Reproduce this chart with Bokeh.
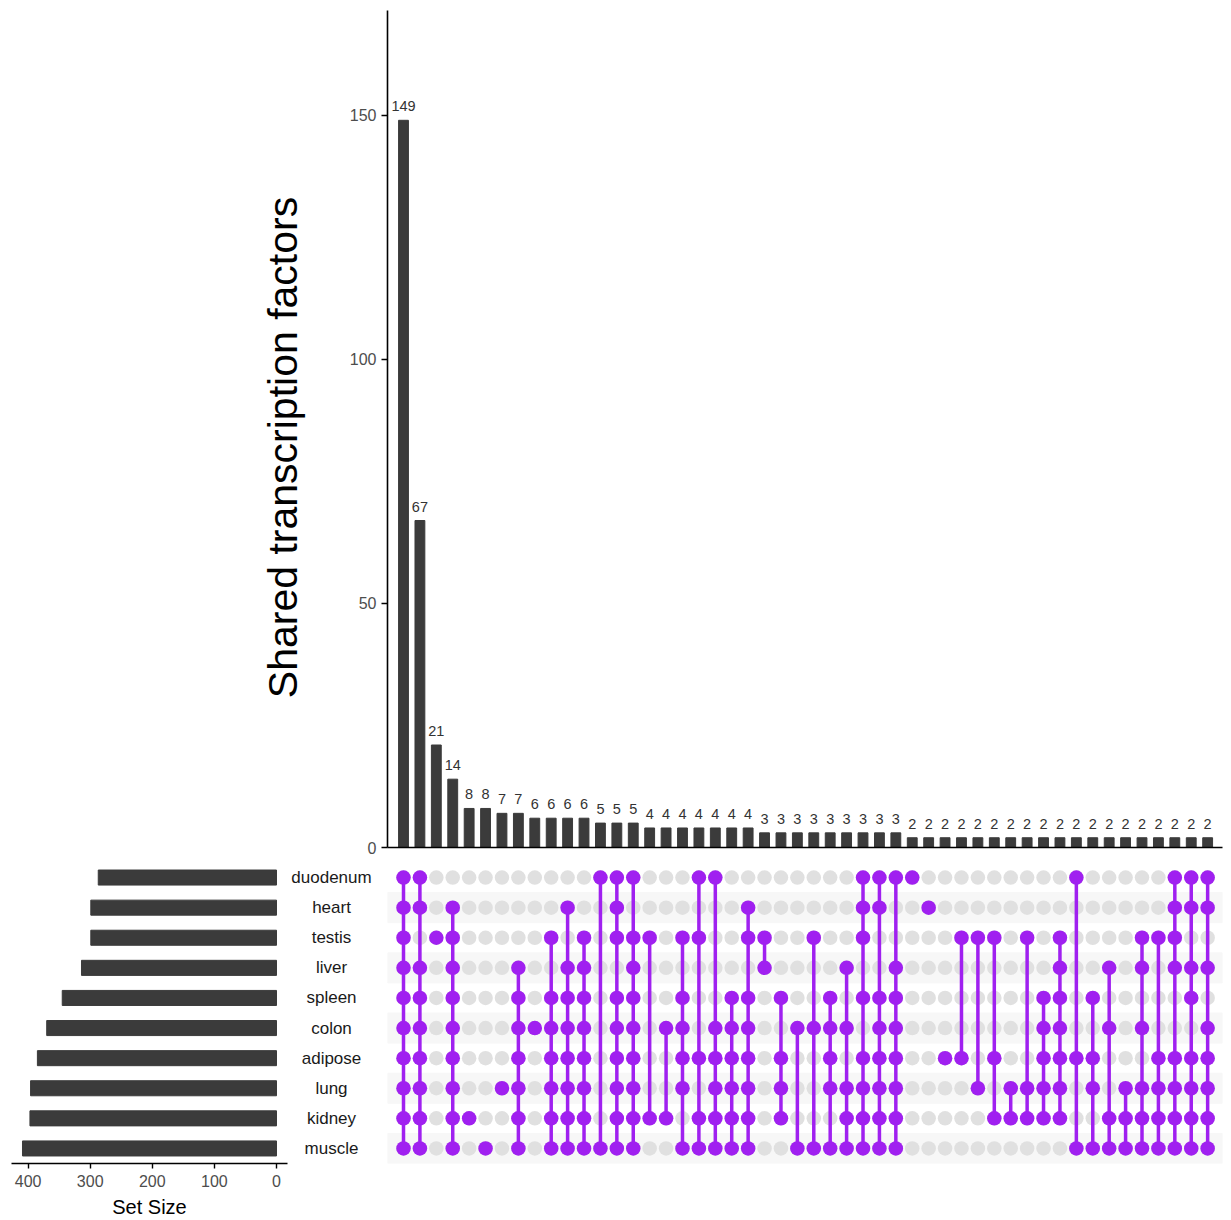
from bokeh.plotting import figure
from bokeh.models import Range1d, FactorRange, FixedTicker, LinearAxis, ColumnDataSource
from bokeh.layouts import column, row
from bokeh.embed import file_html
from bokeh.resources import INLINE
from bokeh.core.properties import value
import math

# ---------------- data ----------------
sets = ["duodenum", "heart", "testis", "liver", "spleen",
        "colon", "adipose", "lung", "kidney", "muscle"]
set_sizes = [287, 299, 299, 314, 345, 370, 385, 396, 397, 409]

intersection_sizes = [149, 67, 21, 14, 8, 8, 7, 7, 6, 6,
                      6, 6, 5, 5, 5, 4, 4, 4, 4, 4,
                      4, 4, 3, 3, 3, 3, 3, 3, 3, 3,
                      3, 2, 2, 2, 2, 2, 2, 2, 2, 2,
                      2, 2, 2, 2, 2, 2, 2, 2, 2, 2]

# membership of each intersection, one char per set in the order of `sets`
memberships = [
    "1111111111", "1101111111", "0010000000", "0111111111", "0000000010",
    "0000000001", "0000000100", "0001111111", "0000010000", "0010111111",
    "0101111111", "0011111111", "1000000001", "1110111111", "1011111111",
    "0010000010", "0000010010", "0010111101", "1010001011", "1000011111",
    "0000111111", "0110111111", "0011000000", "0000101110", "0000010001",
    "0010010001", "0000111101", "0001010111", "1110101111", "1100111111",
    "1001111111", "1000000000", "0100000000", "0000001000", "0010001000",
    "0010000100", "0010001010", "0000000110", "0010000110", "0000111110",
    "0011111110", "1000001001", "0000101101", "0001010011", "0000000111",
    "0011010111", "0010001111", "1111001111", "1101101111", "1101011111",
]

count_ticks = [0, 50, 100, 150]
size_ticks = [0, 100, 200, 300, 400]
y_title = "Shared transcription factors"
x_title = "Set Size"

# ---------------- style ----------------
FONT = "Liberation Sans"
BAR = "#3B3B3B"
PURPLE = "#A020F0"
EMPTY = "#E0E0E0"
STRIPE = "#F7F7F7"
TICK_TXT = "#4D4D4D"

n = len(intersection_sizes)
xr = Range1d(-0.975, 49.905)
yfac = FactorRange(factors=list(reversed(sets)))

# vertical borders shared by all plots in a row (rows align frames)
TOP1, BOT1, H1 = 10, 11, 858
TOP2, BOT2, H2 = 4, 57, 362
LABW = 330


def base(**kw):
    p = figure(output_backend="svg", toolbar_location=None,
               outline_line_color=None, background_fill_color="white",
               border_fill_color="white", **kw)
    return p


# ---------------- y title panel ----------------
lab = base(width=LABW, height=H1, x_range=Range1d(0, LABW), y_range=Range1d(H1 - BOT1, TOP1),
           x_axis_type=None, y_axis_type=None,
           min_border_left=0, min_border_right=0, min_border_top=TOP1, min_border_bottom=BOT1)
lab.text(x=[282], y=[447], text=[y_title], angle=math.pi / 2,
         text_align="center", text_baseline="middle",
         text_font=value(FONT), text_font_size="41px", text_color="black")

# ---------------- intersection bars ----------------
bar = base(width=1223 - LABW, height=H1, x_range=xr, y_range=Range1d(0, 171.5),
           x_axis_type=None, y_axis_type=None,
           min_border_left=387 - LABW, min_border_right=1, min_border_top=TOP1, min_border_bottom=BOT1)
yax = LinearAxis(ticker=FixedTicker(ticks=count_ticks),
                 axis_line_color="black", axis_line_width=1.6,
                 major_tick_line_color="black", major_tick_line_width=1.4,
                 major_tick_out=6, major_tick_in=0, minor_tick_out=0, minor_tick_in=0,
                 major_label_standoff=5,
                 major_label_text_font=FONT, major_label_text_font_size="16px",
                 major_label_text_color=TICK_TXT)
bar.add_layout(yax, "left")
xax = LinearAxis(ticker=FixedTicker(ticks=[]),
                 axis_line_color="black", axis_line_width=1.6,
                 major_tick_out=0, major_tick_in=0, minor_tick_out=0, minor_tick_in=0,
                 major_label_standoff=0, major_label_text_font_size="0px")
bar.add_layout(xax, "below")

bsrc = ColumnDataSource(dict(x=list(range(n)), top=intersection_sizes,
                             label=[str(v) for v in intersection_sizes]))
bar.vbar(x="x", top="top", bottom=0, width=0.6, color=BAR, source=bsrc)
bar.text(x="x", y="top", text="label", source=bsrc, text_align="center",
         text_baseline="alphabetic", y_offset=-14,
         text_font=value(FONT), text_font_size="14.5px", text_color="#333333")

# ---------------- set size bars ----------------
size = base(width=290, height=H2, x_range=Range1d(426.7, -17.7), y_range=yfac,
            x_axis_type=None, y_axis_type=None,
            min_border_left=11, min_border_right=3, min_border_top=TOP2, min_border_bottom=BOT2)
sax = LinearAxis(ticker=FixedTicker(ticks=size_ticks), axis_label=x_title,
                 axis_line_color="black", axis_line_width=1.6,
                 major_tick_line_color="black", major_tick_line_width=1.4,
                 major_tick_out=5, major_tick_in=0, minor_tick_out=0, minor_tick_in=0,
                 major_label_standoff=6,
                 major_label_text_font=FONT, major_label_text_font_size="16px",
                 major_label_text_color=TICK_TXT,
                 axis_label_standoff=6, axis_label_text_font=FONT,
                 axis_label_text_font_size="20px", axis_label_text_font_style="normal",
                 axis_label_text_color="black")
size.add_layout(sax, "below")
size.hbar(y=sets, left=0, right=set_sizes, height=0.5, color=BAR)

# ---------------- set names ----------------
names = base(width=82, height=H2, x_range=Range1d(0, 1), y_range=yfac,
             x_axis_type=None, y_axis_type=None,
             min_border_left=0, min_border_right=0, min_border_top=TOP2, min_border_bottom=BOT2)
names.text(x=[0.5] * len(sets), y=sets, text=sets, text_align="center",
           text_baseline="middle", text_font=value(FONT), text_font_size="17px",
           text_color="#1A1A1A")

# ---------------- matrix ----------------
mat = base(width=851, height=H2, x_range=xr, y_range=yfac,
           x_axis_type=None, y_axis_type=None,
           min_border_left=15, min_border_right=1, min_border_top=TOP2, min_border_bottom=BOT2)
stripe_sets = [s for i, s in enumerate(sets) if i % 2 == 1]
mat.hbar(y=stripe_sets, left=xr.start, right=xr.end, height=1, color=STRIPE)

ex, ey, fx, fy = [], [], [], []
sx, s0, s1 = [], [], []
for i, m in enumerate(memberships):
    members = [sets[j] for j, c in enumerate(m) if c == "1"]
    for s in sets:
        ex.append(i)
        ey.append(s)
    for s in members:
        fx.append(i)
        fy.append(s)
    if len(members) > 1:
        sx.append(i)
        s0.append(members[0])
        s1.append(members[-1])

mat.scatter(x=ex, y=ey, marker="circle", size=14.5, fill_color=EMPTY, line_color=None)
mat.segment(x0=sx, y0=s0, x1=sx, y1=s1, line_color=PURPLE, line_width=3.5)
mat.scatter(x=fx, y=fy, marker="circle", size=14.5, fill_color=PURPLE, line_color=None)

layout = column(row(lab, bar), row(size, names, mat))
open("out.html", "w").write(file_html(layout, INLINE))
